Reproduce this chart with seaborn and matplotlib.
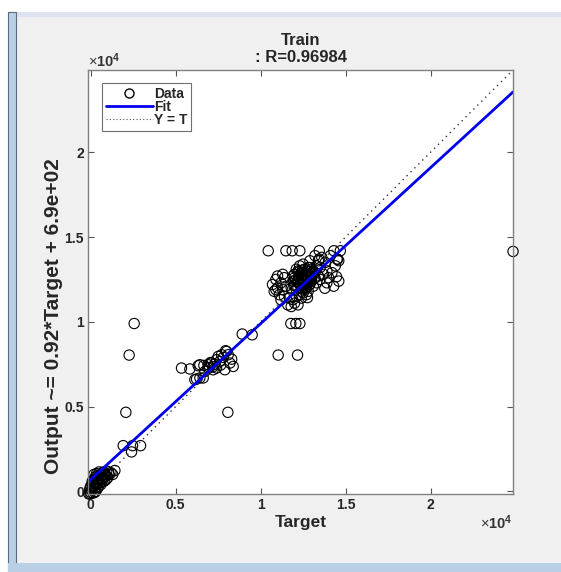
import numpy as np
import pandas as pd
import matplotlib
matplotlib.use("Agg")
import matplotlib.pyplot as plt
import seaborn as sns
from matplotlib.lines import Line2D
from matplotlib.patches import Rectangle

# regression result shown in the title / label
r_value = 0.96984
fit_slope = 0.92
fit_intercept = 690
axis_min = -150
axis_max = 24850
tick_values = [0, 5000, 10000, 15000, 20000]
tick_labels = ["0", "0.5", "1", "1.5", "2"]

# target values (x)
target = [
    # near the origin
    -100, -40, 50, 100, 150, 150, 200, 250, 300, 350, 400, 450, 500, 550, 600, 650,
    700, 750, 800, 850, 900, 950, 1000, 1100, 1200, 1300, 1430, 200, 350, 500, 0,
    100, 300, 450, 600, 0, 250, 400, 700, 550,
    -50, 80, 180, 320, 420, 520, 620, 720, 820, 920, 380, 280, 660, 760, 1050,
    # low-mid group
    1920, 2470, 2410, 2940,
    # outliers
    2076, 8076, 2270, 2565, 11035, 12175, 11780, 12075, 12310, 8920, 9505, 24850,
    10450, 11490, 11860, 12310, 13450, 14310, 14690,
    # middle cluster
    5350, 5840, 6235, 6625, 6430, 6920, 7410, 7705, 8000, 8195, 8390, 7900, 7210,
    6725, 6135, 6330, 6665, 7115, 7510, 7940, 8095, 7605, 6915, 7410, 6430, 7300,
    7000, 7800, 8300, 7050, 7650, 7200,
    # main cluster
    10700, 10800, 10900, 11000, 11100, 11000, 11200, 11300, 11200, 11400, 11500,
    11400, 11300, 10900,
    11600, 11800, 12000, 12200, 11900, 12400, 12100, 11700,
    11800, 11900, 12000, 12000, 12100, 12200, 12200, 12300, 12300, 12400, 12400,
    12500, 12500, 12600, 12600, 12700, 12700, 12800, 12800, 12900, 12900, 13000,
    13000, 13100, 13100, 13200, 13200, 13300, 13300, 13400, 13500, 12000, 12100,
    12300, 12500, 12400, 12600, 12800, 12900, 12700, 12200, 11900, 12400, 12600,
    12800, 13000, 12300, 12500, 12700,
    12350, 12450, 12550, 12650, 12750, 12850, 12950, 13050, 12250, 12150, 12050,
    12350, 12550, 12750, 12950, 12450, 12650, 12850, 13150, 11950, 12250, 12600,
    12400, 12700, 12900, 13100, 12200, 12500, 12800, 13000,
    13400, 13600, 13800, 13500, 13900, 14000, 14200, 14400, 14500, 14600, 13700,
    14100, 13200, 12900, 14300, 13900, 14600, 12760, 13780, 14470, 14530, 13450,
]

# output values (y)
output = [
    -150, -120, 100, 300, 410, -100, 500, 200, 700, 400, 800, 600, 900, 500, 1000, 700,
    1100, 800, 600, 1000, 900, 1200, 800, 1000, 1100, 1000, 1235, 1000, 1050, 1150, 300,
    600, 0, 250, 400, -50, -50, 450, 750, 850,
    150, 450, 650, 550, 950, 700, 850, 950, 1050, 700, 150, 850, 550, 1150, 1150,
    2700, 2700, 2330, 2700,
    4665, 4665, 8040, 9900, 8040, 8040, 9900, 9900, 9900, 9280, 9235, 14150,
    14190, 14190, 14190, 14190, 14190, 14190, 14190,
    7275, 7220, 6630, 6690, 7470, 7470, 7765, 8060, 8255, 7570, 7370, 7175, 7175,
    7075, 6590, 7410, 7430, 7570, 7960, 8295, 8060, 7665, 7275, 7275, 6690, 7500,
    7300, 7900, 7800, 7600, 7450, 7350,
    12200, 11800, 12500, 12000, 11600, 12700, 12300, 11900, 11300, 12600, 12100,
    11500, 12800, 11900,
    11000, 10900, 11100, 11000, 11300, 11400, 11500, 11400,
    12000, 12400, 12200, 12800, 11900, 12500, 13000, 12200, 12700, 11800, 12400,
    12900, 12100, 12600, 13100, 12300, 12000, 12800, 12500, 13200, 12200, 12700,
    12400, 13000, 12100, 12600, 12900, 12300, 13300, 12700, 12500, 12600, 13100,
    13300, 13400, 12000, 11900, 11800, 12600, 13000, 12000, 12700, 12900, 12300,
    13200, 13100, 11600, 11700, 11600,
    12350, 12550, 12250, 12750, 12450, 12950, 12650, 12850, 12650, 12350, 12450,
    12850, 12650, 12250, 12450, 13050, 12050, 12350, 12550, 12150, 12950, 12750,
    12150, 12550, 12750, 12950, 12450, 12850, 12350, 12550,
    13600, 13800, 13500, 13200, 13000, 12600, 12900, 13300, 13700, 13600, 12800,
    13900, 13900, 13600, 12100, 12300, 12400, 11430, 11980, 12660, 13690, 13690,
]

df = pd.DataFrame({"Target": target, "Output": output})
line_x = [axis_min, axis_max]
lines = pd.DataFrame({
    "x": line_x,
    "fit": [fit_slope * v + fit_intercept for v in line_x],
    "yt": line_x,
})

sns.set_style("white")
plt.rcParams["font.family"] = ["Liberation Sans", "DejaVu Sans"]
plt.rcParams["mathtext.fontset"] = "custom"
plt.rcParams["mathtext.rm"] = "Liberation Sans"
plt.rcParams["mathtext.bf"] = "Liberation Sans:bold"

fig = plt.figure(figsize=(5.61, 5.72), dpi=100, facecolor="#f0f0f0")

# window frame bits of the screenshot
fig.patches.append(Rectangle((0, 0.979), 1, 0.021, transform=fig.transFigure,
                             facecolor="white", edgecolor="none"))
fig.patches.append(Rectangle((0.0285, 0.970), 0.972, 0.009, transform=fig.transFigure,
                             facecolor="#dfe3f0", edgecolor="none"))
fig.patches.append(Rectangle((0, 0), 0.0143, 1, transform=fig.transFigure,
                             facecolor="white", edgecolor="none"))
fig.patches.append(Rectangle((0.0143, 0), 0.0143, 0.979, transform=fig.transFigure,
                             facecolor="#b9cfe6", edgecolor="#5a6a80", linewidth=0.8))
fig.patches.append(Rectangle((0.0143, 0), 0.986, 0.0157, transform=fig.transFigure,
                             facecolor="#b9cfe6", edgecolor="none"))

ax = fig.add_axes([0.1569, 0.1364, 0.7576, 0.7413])
ax.set_facecolor("white")

sns.lineplot(data=lines, x="x", y="yt", ax=ax, color="#333333", linestyle=(0, (1, 3)),
             linewidth=1.0)
sns.lineplot(data=lines, x="x", y="fit", ax=ax, color="#0000ee", linewidth=2.0)
pts = sns.scatterplot(data=df, x="Target", y="Output", ax=ax, marker="o", s=55,
                      facecolors="none", edgecolor="black", linewidth=0.8)
for c in ax.collections:
    c.set_clip_on(False)

ax.set_xlim(axis_min, axis_max)
ax.set_ylim(axis_min, axis_max)
ax.set_xticks(tick_values)
ax.set_xticklabels(tick_labels, fontweight="bold", fontsize=10)
ax.set_yticks(tick_values)
ax.set_yticklabels(tick_labels, fontweight="bold", fontsize=10)
ax.tick_params(direction="in", length=4, width=0.8, color="#555555",
               top=True, right=True, bottom=True, left=True, pad=3)
for s in ax.spines.values():
    s.set_color("#808080")
    s.set_linewidth(1.0)

ax.set_xlabel("Target", fontweight="bold", fontsize=12.5, labelpad=2)
ax.set_ylabel("Output ~= %.2g*Target + %.1e" % (fit_slope, fit_intercept),
              fontweight="bold", fontsize=15)
ax.yaxis.set_label_coords(-0.059, 0.42)
ax.set_title("Train\n: R=%.5f" % r_value, fontweight="bold", fontsize=12,
             linespacing=1.15, pad=6)

ax.text(0.0, 1.0, r"$\times\mathbf{10^{4}}$", transform=ax.transAxes,
        fontsize=10.5, ha="left", va="bottom", color="#333333")
ax.text(1.0, -0.045, r"$\times\mathbf{10^{4}}$", transform=ax.transAxes,
        fontsize=10.5, ha="right", va="top", color="#333333")

handles = [
    Line2D([], [], marker="o", linestyle="none", markerfacecolor="none",
           markeredgecolor="black", markersize=6.5),
    Line2D([], [], color="#0000ee", linewidth=2.0),
    Line2D([], [], color="#555555", linestyle=(0, (1, 2)), linewidth=0.8),
]
leg = ax.legend(handles, ["Data", "Fit", "Y = T"], loc="upper left",
                bbox_to_anchor=(0.033, 0.969), fancybox=False, framealpha=1,
                edgecolor="#707070", handlelength=3.4, handletextpad=0.1,
                borderpad=0.25, labelspacing=-0.05, borderaxespad=0,
                prop={"weight": "bold", "size": 10})
leg.get_frame().set_linewidth(0.8)

fig.savefig("out.png", dpi=100, facecolor=fig.get_facecolor())
